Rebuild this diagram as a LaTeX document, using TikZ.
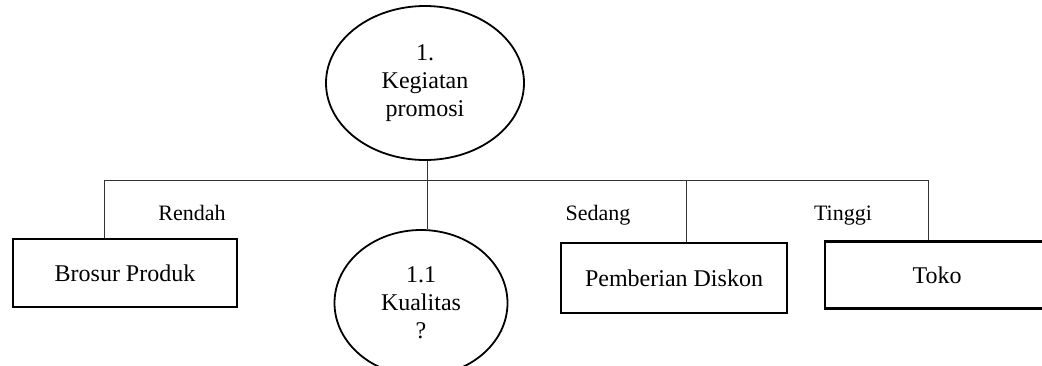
\documentclass[tikz,border=0pt]{standalone}
\usepackage{fontspec}
\setmainfont{Liberation Serif}
\usetikzlibrary{shapes,positioning,calc}

\begin{document}
\begin{tikzpicture}[x = 1pt, y = -1pt, font = \fontsize{24}{28}\selectfont]
    \tikzset{
      proses/.style = {draw, ellipse, line width = 1.8pt, inner sep = 0pt, align = center},
      aksi/.style = {draw, rectangle, line width = 2.4pt, inner sep = 0pt},
      kondisi/.style = {font = \fontsize{22}{26}\selectfont, anchor = base},
      cabang/.style = {line width = 0.9pt, draw = black!80},
    }
    \useasboundingbox (0, 0) rectangle (1042, 365);

    \node [proses, minimum width = 198pt, minimum height = 154pt] (promosi) at (425, 83) {1.\\Kegiatan\\promosi};
    \node [proses, minimum width = 173pt, minimum height = 146pt] (kualitas) at (421, 303) {1.1\\Kualitas\\?};

    \node [aksi, minimum width = 224pt, minimum height = 68pt] (brosur) at (125, 273) {Brosur Produk};
    \node [aksi, minimum width = 226pt, minimum height = 70pt] (diskon) at (674, 278) {Pemberian Diskon};
    \node [aksi, minimum width = 224pt, minimum height = 67pt] (toko) at (937, 275) {Toko};

    \coordinate (c0) at (104, 180);
    \coordinate (c1) at (427, 180);
    \coordinate (c2) at (686, 180);
    \coordinate (c3) at (928, 180);

    \draw [cabang] (c0) -- (c3);
    \draw [cabang] (c1 |- promosi.south) -- (c1 |- kualitas.north);
    \draw [cabang] (c0) -- (c0 |- brosur.north);
    \draw [cabang] (c2) -- (c2 |- diskon.north);
    \draw [cabang] (c3) -- (c3 |- toko.north);

    \node [kondisi] (rendah) at (192, 220) {Rendah};
    \node [kondisi] (sedang) at (598, 220) {Sedang};
    \node [kondisi] (tinggi) at (843, 220) {Tinggi};
  \end{tikzpicture}
\end{document}
